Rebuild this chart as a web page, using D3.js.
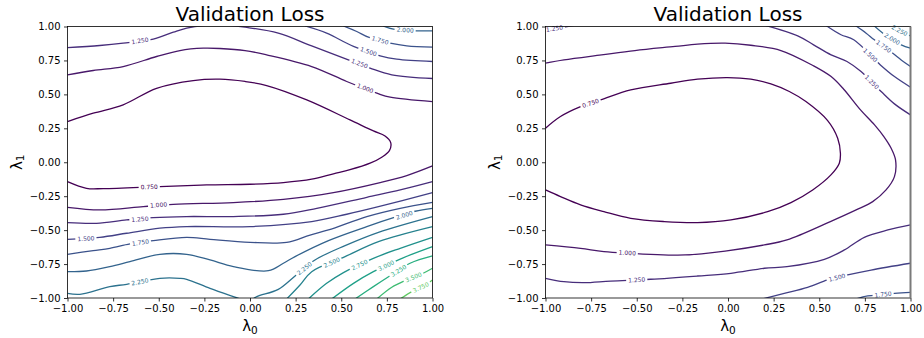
<!DOCTYPE html>
<html>
<head>
<meta charset="utf-8">
<script src="https://cdn.jsdelivr.net/npm/d3@7"></script>
<style>
  body { margin: 0; background: #fff; }
  svg { display: block; font-family: "DejaVu Sans", sans-serif; }
</style>
</head>
<body>
<div id="chart"></div>
<script>
const W = 924, H = 338;
const title = 'Validation Loss';
const ticks = [-1, -0.75, -0.5, -0.25, 0, 0.25, 0.5, 0.75, 1];

// contour lines, points are [λ0, λ1]
// left panel
const l075 = [[-1, 0.300], [-0.859, 0.361], [-0.695, 0.423], [-0.512, 0.545], [-0.311, 0.602], [-0.165, 0.612], [-0.027, 0.595], [0.091, 0.565], [0.311, 0.459], [0.548, 0.312], [0.676, 0.231], [0.740, 0.194], [0.771, 0.145], [0.764, 0.086], [0.722, 0.037], [0.658, -0.007], [0.548, -0.055], [0.457, -0.085], [0.338, -0.125], [0.183, -0.150], [0, -0.162], [-0.238, -0.167], [-0.494, -0.179], [-0.804, -0.194], [-0.896, -0.192], [-1, -0.143]];
const l100a = [[-1, 0.644], [-0.859, 0.676], [-0.695, 0.705], [-0.512, 0.779], [-0.384, 0.823], [-0.256, 0.840], [-0.165, 0.838], [-0.027, 0.823], [0.091, 0.791], [0.338, 0.705], [0.530, 0.595], [0.695, 0.509], [0.768, 0.479], [1, 0.447]];
const l125a = [[-1, 0.845], [-0.823, 0.860], [-0.695, 0.877], [-0.530, 0.907], [-0.420, 0.958], [-0.347, 0.988], [-0.256, 1.007], [-0.128, 1.010], [-0.027, 0.995], [0.155, 0.951], [0.338, 0.857], [0.539, 0.754], [0.658, 0.693], [0.777, 0.644], [1, 0.617]];
const l150a = [[0.302, 1.004], [0.420, 0.951], [0.567, 0.853], [0.713, 0.784], [0.804, 0.759], [1, 0.742]];
const l175a = [[0.512, 1.004], [0.585, 0.963], [0.649, 0.921], [0.768, 0.877], [0.859, 0.857], [1, 0.848]];
const l200a = [[0.728, 1.004], [0.786, 0.980], [0.914, 0.968], [1, 0.968]];
const l100b = [[-1, -0.332], [-0.823, -0.351], [-0.585, -0.327], [-0.420, -0.310], [-0.091, -0.297], [0.183, -0.273], [0.457, -0.224], [0.713, -0.150], [0.859, -0.098], [1, -0.027]];
const l125b = [[-1, -0.445], [-0.841, -0.450], [-0.676, -0.425], [-0.530, -0.408], [-0.347, -0.400], [-0.091, -0.400], [0.183, -0.383], [0.366, -0.339], [0.640, -0.258], [0.823, -0.204], [1, -0.143]];
const l150b = [[-1, -0.568], [-0.823, -0.553], [-0.676, -0.523], [-0.494, -0.486], [-0.347, -0.474], [0, -0.474], [0.338, -0.437], [0.530, -0.383], [0.704, -0.327], [1, -0.224]];
const l175b = [[-1, -0.678], [-0.859, -0.651], [-0.768, -0.634], [-0.658, -0.602], [-0.530, -0.577], [-0.347, -0.553], [-0.219, -0.568], [0, -0.590], [0.201, -0.590], [0.329, -0.536], [0.430, -0.499], [0.640, -0.400], [0.823, -0.339], [1, -0.295]];
const l200b = [[-1, -0.806], [-0.896, -0.801], [-0.768, -0.769], [-0.658, -0.732], [-0.494, -0.678], [-0.347, -0.678], [-0.219, -0.720], [-0.091, -0.769], [0.101, -0.799], [0.183, -0.744], [0.247, -0.695], [0.430, -0.577], [0.640, -0.474], [0.795, -0.405], [0.905, -0.361], [1, -0.339]];
const l225a = [[-1, -0.966], [-0.932, -0.973], [-0.768, -0.916], [-0.676, -0.899], [-0.494, -0.855], [-0.384, -0.855], [-0.347, -0.862], [-0.219, -0.929], [-0.091, -0.990], [-0.037, -1.015]];
const l225b = [[0.009, -1.015], [0.037, -0.990], [0.155, -0.936], [0.247, -0.838], [0.356, -0.720], [0.521, -0.614], [0.704, -0.516], [1, -0.400]];
const l250 = [[0.201, -1.007], [0.274, -0.904], [0.338, -0.806], [0.521, -0.695], [0.704, -0.585], [1, -0.474]];
const l275 = [[0.320, -1.007], [0.420, -0.892], [0.512, -0.813], [0.676, -0.708], [0.823, -0.634], [1, -0.553]];
const l300 = [[0.448, -1.007], [0.567, -0.892], [0.676, -0.806], [0.823, -0.713], [1, -0.622]];
const l325 = [[0.576, -1.007], [0.676, -0.916], [0.759, -0.843], [0.877, -0.744], [1, -0.690]];
const l350 = [[0.695, -1.007], [0.777, -0.921], [0.850, -0.872], [0.941, -0.823], [1, -0.781]];
const l375 = [[0.823, -1.007], [0.887, -0.953], [0.951, -0.912], [1, -0.867]];

const leftLines = [
  [0.75, l075], [1.0, l100a], [1.25, l125a], [1.5, l150a], [1.75, l175a], [2.0, l200a],
  [1.0, l100b], [1.25, l125b], [1.5, l150b], [1.75, l175b], [2.0, l200b],
  [2.25, l225a], [2.25, l225b], [2.5, l250], [2.75, l275], [3.0, l300],
  [3.25, l325], [3.5, l350], [3.75, l375]
];
// inline labels [level, λ0, λ1]
const leftLabels = [
  [0.75, -0.552, -0.182], [1.0, -0.501, -0.315], [1.0, 0.631, 0.545],
  [1.25, -0.603, 0.894], [1.25, 0.600, 0.727], [1.25, -0.603, -0.420],
  [1.5, 0.649, 0.815], [1.5, -0.899, -0.563], [1.75, 0.713, 0.898], [1.75, -0.600, -0.592],
  [2.0, 0.850, 0.974], [2.0, 0.846, -0.390], [2.25, -0.603, -0.881], [2.25, 0.298, -0.783],
  [2.5, 0.448, -0.739], [2.75, 0.600, -0.757], [3.0, 0.746, -0.762],
  [3.25, 0.814, -0.799], [3.5, 0.896, -0.847], [3.75, 0.936, -0.922]
];

// right panel
const r075 = [[-1, 0.251], [-0.918, 0.337], [-0.808, 0.410], [-0.698, 0.459], [-0.533, 0.533], [-0.314, 0.582], [-0.167, 0.612], [-0.003, 0.624], [0.125, 0.612], [0.235, 0.577], [0.336, 0.521], [0.427, 0.447], [0.546, 0.307], [0.601, 0.177], [0.616, 0.066], [0.610, -0.007], [0.564, -0.093], [0.464, -0.204], [0.345, -0.297], [0.217, -0.364], [0.016, -0.425], [-0.167, -0.445], [-0.350, -0.437], [-0.533, -0.413], [-0.680, -0.364], [-0.808, -0.314], [-0.918, -0.253], [-1, -0.204]];
const r100 = [[-1, 0.730], [-0.899, 0.754], [-0.693, 0.791], [-0.510, 0.823], [-0.290, 0.853], [-0.167, 0.870], [-0.016, 0.877], [0.125, 0.862], [0.290, 0.823], [0.469, 0.710], [0.565, 0.631], [0.634, 0.538], [0.726, 0.386], [0.803, 0.275], [0.854, 0.189], [0.894, 0.103], [0.918, 0.017], [0.912, -0.106], [0.866, -0.204], [0.793, -0.290], [0.702, -0.351], [0.561, -0.437], [0.323, -0.572], [0.199, -0.609], [-0.016, -0.654], [-0.235, -0.683], [-0.424, -0.678], [-0.680, -0.658], [-0.808, -0.634], [-1, -0.609]];
const r125a = [[-1, 0.975], [-0.899, 0.995], [-0.835, 1.010]];
const r125b = [[0.208, 1.007], [0.382, 0.931], [0.469, 0.865], [0.565, 0.791], [0.652, 0.742], [0.729, 0.668], [0.839, 0.521], [0.912, 0.430], [1, 0.349]];
const r150a = [[0.537, 1.007], [0.619, 0.939], [0.689, 0.902], [0.835, 0.717], [0.912, 0.631], [1, 0.553]];
const r175a = [[0.698, 1.007], [0.757, 0.951], [0.802, 0.902], [0.903, 0.803], [0.949, 0.754], [1, 0.705]];
const r200a = [[0.799, 1.007], [0.849, 0.951], [0.949, 0.865], [1, 0.840]];
const r225a = [[0.885, 1.007], [0.985, 0.939], [1, 0.931]];
const r125c = [[-1, -0.855], [-0.899, -0.880], [-0.790, -0.887], [-0.643, -0.875], [-0.424, -0.862], [-0.167, -0.838], [0.016, -0.818], [0.199, -0.781], [0.323, -0.769], [0.528, -0.715], [0.638, -0.646], [0.747, -0.553], [0.876, -0.499], [1, -0.462]];
const r150b = [[0.189, -1.007], [0.308, -0.966], [0.436, -0.921], [0.546, -0.867], [0.656, -0.830], [0.784, -0.794], [1, -0.744]];
const r175b = [[0.702, -1.007], [0.766, -0.985], [0.912, -0.966], [1, -0.958]];

const rightLines = [
  [0.75, r075], [1.0, r100], [1.25, r125a], [1.25, r125b], [1.5, r150a], [1.75, r175a],
  [2.0, r200a], [2.25, r225a], [1.25, r125c], [1.5, r150b], [1.75, r175b]
];
const rightLabels = [
  [0.75, -0.753, 0.434], [1.0, -0.552, -0.668], [1.25, -0.951, 0.985], [1.25, 0.788, 0.590],
  [1.25, -0.500, -0.867], [1.5, 0.779, 0.788], [1.5, 0.597, -0.850], [1.75, 0.853, 0.852],
  [1.75, 0.850, -0.974], [2.0, 0.899, 0.908], [2.25, 0.940, 0.970]
];

const fmt = d3.format('.2f');
const lfmt = d3.format('.3f');
const color = d3.scaleSequential(d3.interpolateViridis).domain([0.75, 4.75]);

const pw = 365, ph = 271.5, plotTop = 26.5;

const svg = d3.select('#chart').append('svg')
  .attr('width', W)
  .attr('height', H);
const defs = svg.append('defs');

function segAngle(pts, px, py) {
  // direction of the nearest segment, in screen space
  let best = Infinity, ang = 0;
  for (let i = 0; i < pts.length - 1; i++) {
    const [ax, ay] = pts[i], [bx, by] = pts[i + 1];
    const dx = bx - ax, dy = by - ay;
    let t = ((px - ax) * dx + (py - ay) * dy) / (dx * dx + dy * dy);
    t = Math.max(0, Math.min(1, t));
    const d = Math.hypot(ax + t * dx - px, ay + t * dy - py);
    if (d < best) { best = d; ang = Math.atan2(dy, dx); }
  }
  let deg = ang * 180 / Math.PI;
  if (deg > 90) deg -= 180;
  if (deg < -90) deg += 180;
  return deg;
}

function drawPanel(x0, lines, labels, id, grayRight) {
  const x = d3.scaleLinear().domain([-1, 1]).range([0, pw]);
  const y = d3.scaleLinear().domain([-1, 1]).range([ph, 0]);
  const g = svg.append('g').attr('transform', `translate(${x0},${plotTop})`);

  defs.append('clipPath').attr('id', 'clip-' + id)
    .append('rect').attr('width', pw).attr('height', ph);
  const mask = defs.append('mask').attr('id', 'mask-' + id)
    .attr('maskUnits', 'userSpaceOnUse')
    .attr('x', -20).attr('y', -20).attr('width', pw + 40).attr('height', ph + 40);
  mask.append('rect').attr('x', -20).attr('y', -20)
    .attr('width', pw + 40).attr('height', ph + 40).attr('fill', '#fff');

  const line = d3.line()
    .x(d => x(d[0]))
    .y(d => y(d[1]))
    .curve(d3.curveCatmullRom.alpha(0.5));

  g.append('g')
    .attr('clip-path', `url(#clip-${id})`)
    .attr('mask', `url(#mask-${id})`)
    .selectAll('path')
    .data(lines)
    .join('path')
    .attr('d', d => line(d[1]))
    .attr('fill', 'none')
    .attr('stroke', d => color(d[0]))
    .attr('stroke-width', 1.3);

  labels.forEach(([lev, lx, ly]) => {
    const px = x(lx), py = y(ly);
    let ang = 0, best = Infinity;
    lines.filter(l => l[0] === lev).forEach(l => {
      const pts = l[1].map(p => [x(p[0]), y(p[1])]);
      // pick the line that passes closest to the label
      const dmin = d3.min(pts, p => Math.hypot(p[0] - px, p[1] - py));
      if (dmin < best) { best = dmin; ang = segAngle(pts, px, py); }
    });
    const tf = `translate(${px},${py}) rotate(${ang})`;
    const t = g.append('text')
      .attr('transform', tf)
      .attr('text-anchor', 'middle')
      .attr('dy', '0.35em')
      .attr('font-size', 6)
      .attr('fill', color(lev))
      .text(lfmt(lev));
    const w = t.node().getComputedTextLength();
    mask.append('rect')
      .attr('transform', tf)
      .attr('x', -w / 2 - 2).attr('y', -3.2)
      .attr('width', w + 4).attr('height', 6.4)
      .attr('fill', '#000');
  });

  const xa = g.append('g')
    .attr('transform', `translate(0,${ph})`)
    .call(d3.axisBottom(x).tickValues(ticks).tickFormat(fmt).tickSize(3.5).tickPadding(3.5));
  const ya = g.append('g')
    .call(d3.axisLeft(y).tickValues(ticks).tickFormat(fmt).tickSize(3.5).tickPadding(3.5));
  [xa, ya].forEach(a => {
    a.select('.domain').remove();
    a.attr('font-family', '"DejaVu Sans", sans-serif').attr('font-size', 10);
    a.selectAll('line').attr('stroke', '#000').attr('stroke-width', 0.8);
    a.selectAll('text').attr('fill', '#000');
  });

  g.append('rect')
    .attr('width', pw).attr('height', ph)
    .attr('fill', 'none').attr('stroke', '#000').attr('stroke-width', 0.8);
  if (grayRight) {
    g.append('line')
      .attr('x1', pw).attr('x2', pw).attr('y1', 0).attr('y2', ph)
      .attr('stroke', '#7a7a7a').attr('stroke-width', 2);
  }

  g.append('text')
    .attr('x', pw / 2).attr('y', -6)
    .attr('text-anchor', 'middle')
    .attr('font-size', 20)
    .attr('fill', '#000')
    .text(title);

  const xl = g.append('text')
    .attr('x', pw / 2).attr('y', ph + 33)
    .attr('text-anchor', 'middle')
    .attr('fill', '#000');
  xl.append('tspan').attr('font-size', 15).text('λ');
  xl.append('tspan').attr('font-size', 10.5).attr('dy', 2.5).text('0');

  const yl = g.append('text')
    .attr('transform', `translate(-46,${ph / 2}) rotate(-90)`)
    .attr('text-anchor', 'middle')
    .attr('fill', '#000');
  yl.append('tspan').attr('font-size', 15).text('λ');
  yl.append('tspan').attr('font-size', 10.5).attr('dy', 2.5).text('1');
}

drawPanel(67.5, leftLines, leftLabels, 'left', false);
drawPanel(545.5, rightLines, rightLabels, 'right', true);
</script>
</body>
</html>
